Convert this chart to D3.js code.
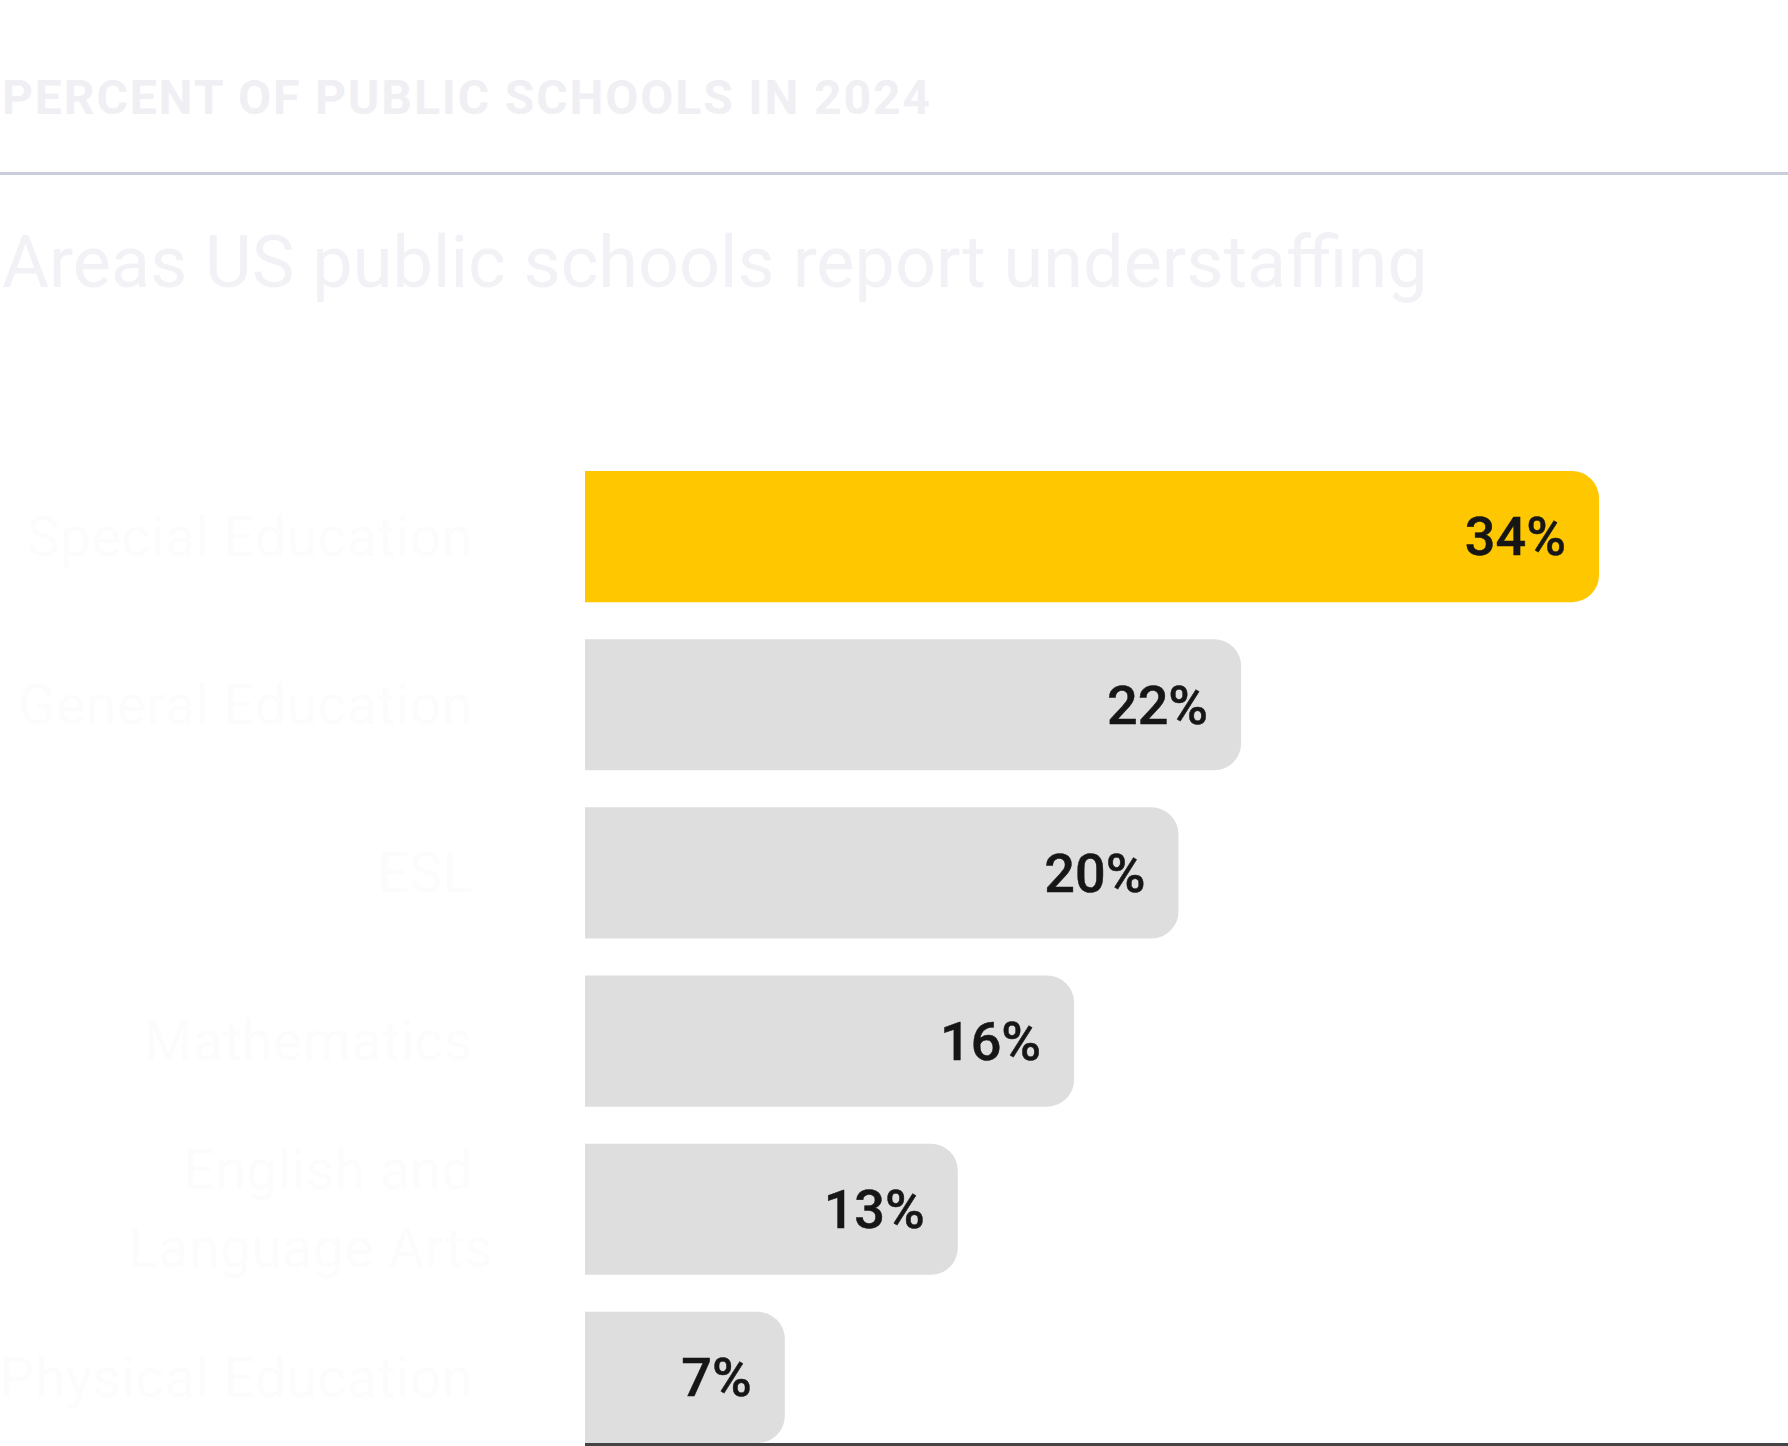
<!DOCTYPE html>
<html>
<head>
<meta charset="utf-8">
<script src="https://cdn.jsdelivr.net/npm/d3@7"></script>
<style>
  html, body { margin: 0; padding: 0; background: #ffffff; }
  svg { display: block; }
</style>
</head>
<body>
<div id="chart"></div>
<script>
// ---- data ----
const categories = ["Special Education", "General Education", "ESL", "Mathematics", "English and|Language Arts", "Physical Education"];
const values = [34, 22, 19.9, 16.4, 12.5, 6.7];
const highlight = ["Special Education"];
const subtitleText = "PERCENT OF PUBLIC SCHOOLS IN 2024";
const titleText = "Areas US public schools report understaffing";

const W = 1788, H = 1446;
const svg = d3.select("#chart").append("svg").attr("width", W).attr("height", H);

// header
svg.append("text").attr("x", 2).attr("y", 114)
  .attr("font-family", "Roboto, sans-serif").attr("font-weight", 700)
  .attr("font-size", 48).attr("letter-spacing", "1.9px")
  .attr("fill", "#efeff4").text(subtitleText);

svg.append("line").attr("x1", 0).attr("x2", W).attr("y1", 173.5).attr("y2", 173.5)
  .attr("stroke", "#c9cdd9").attr("stroke-width", 3);

svg.append("text").attr("x", 2).attr("y", 287)
  .attr("font-family", "Roboto, sans-serif").attr("font-weight", 400)
  .attr("font-size", 72)
  .attr("fill", "#f2f2f6").text(titleText);

// scales
const x = d3.scaleLinear().domain([0, 34]).range([585, 1599]);
const y = d3.scaleBand().domain(categories).range([471, 1443]).paddingInner(0.22).paddingOuter(0);

const r = 27;
function barPath(v, c) {
  const x0 = x(0), x1 = x(v), y0 = y(c), h = y.bandwidth();
  const rr = Math.min(r, (x1 - x0), h / 2);
  return `M${x0},${y0}H${x1 - rr}A${rr},${rr} 0 0 1 ${x1},${y0 + rr}V${y0 + h - rr}A${rr},${rr} 0 0 1 ${x1 - rr},${y0 + h}H${x0}Z`;
}

const data = categories.map((c, i) => ({ c, v: values[i] }));

svg.append("g").selectAll("path").data(data).join("path")
  .attr("d", d => barPath(d.v, d.c))
  .attr("fill", d => highlight.includes(d.c) ? "#ffc700" : "#dedede");

// value labels
svg.append("g").selectAll("text").data(data).join("text")
  .attr("x", d => x(d.v) - 33)
  .attr("y", d => y(d.c) + y.bandwidth() / 2)
  .attr("dy", "0.35em")
  .attr("text-anchor", "end")
  .attr("font-family", "Roboto, sans-serif").attr("font-weight", 500)
  .attr("font-size", 54).attr("fill", "#161616")
  .attr("stroke", "#161616").attr("stroke-width", 0.5)
  .text(d => Math.round(d.v) + "%");

// category labels
const lab = svg.append("g").selectAll("text").data(data).join("text")
  .attr("text-anchor", "end")
  .attr("font-family", "Roboto, sans-serif").attr("font-weight", 400)
  .attr("font-size", 55).attr("letter-spacing", "0.6px").attr("fill", "#fcfcfc");
lab.each(function(d) {
  const lines = d.c.split("|");
  const cy = y(d.c) + y.bandwidth() / 2;
  const lh = 78;
  const t = d3.select(this);
  lines.forEach((ln, i) => {
    t.append("tspan")
      .attr("x", i === 0 ? 473 : 493)
      .attr("y", cy - (lines.length - 1) * lh / 2 + i * lh)
      .attr("dy", "0.35em")
      .text(ln);
  });
});

// baseline axis
svg.append("line").attr("x1", x(0)).attr("x2", W).attr("y1", 1444.5).attr("y2", 1444.5)
  .attr("stroke", "#444444").attr("stroke-width", 3);
</script>
</body>
</html>
